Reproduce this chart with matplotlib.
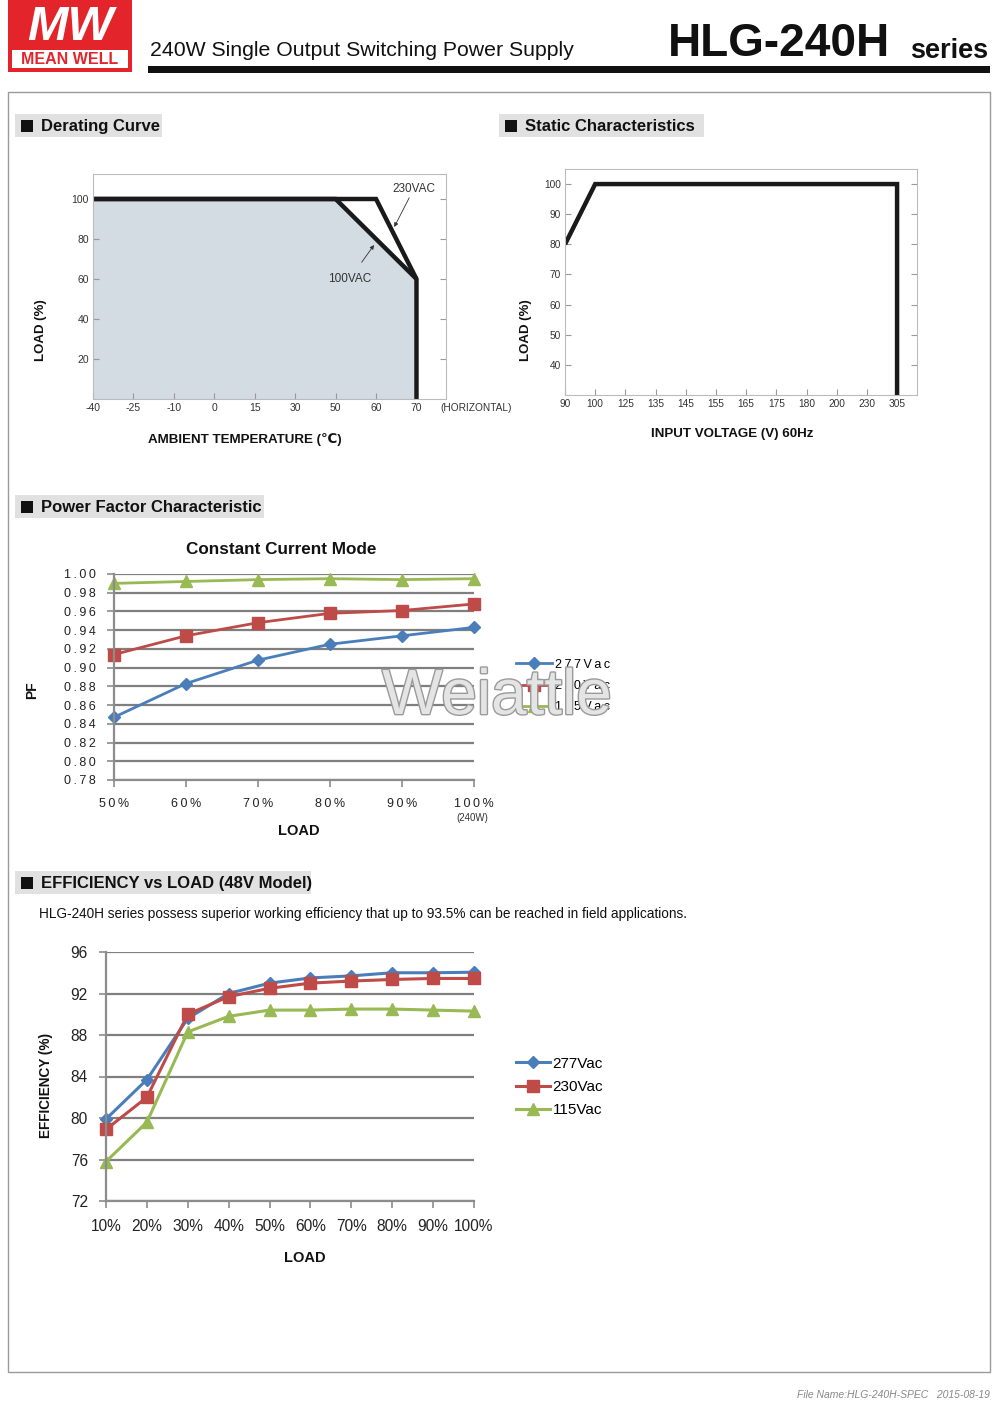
import matplotlib
matplotlib.use("Agg")
import matplotlib.pyplot as plt
from matplotlib.patches import Rectangle
import matplotlib.patheffects as pe
import numpy as np

plt.rcParams["font.family"] = ["Liberation Sans Narrow", "Liberation Sans", "DejaVu Sans"]

W, H = 1000, 1401

# derating curve (ambient temp in C, load in %)
derate_ticks = [-40, -25, -10, 0, 15, 30, 50, 60, 70]
derate_230_t = [-40, 60, 70, 70]
derate_230_load = [100, 100, 60, 0]
derate_100_t = [-40, 50, 70]
derate_100_load = [100, 100, 60]

# static characteristics
static_ticks = [90, 100, 125, 135, 145, 155, 165, 175, 180, 200, 230, 305]
static_v = [90, 100, 305, 305]
static_load = [80, 100, 100, 30]

# power factor, constant current mode
pf_load = [50, 60, 70, 80, 90, 100]
pf_277 = [0.847, 0.883, 0.908, 0.925, 0.934, 0.943]
pf_230 = [0.914, 0.934, 0.948, 0.958, 0.961, 0.968]
pf_115 = [0.990, 0.992, 0.994, 0.995, 0.994, 0.995]

# efficiency vs load, 48V model
eff_load = [10, 20, 30, 40, 50, 60, 70, 80, 90, 100]
eff_277 = [79.9, 83.7, 89.6, 92.0, 93.0, 93.5, 93.7, 94.0, 94.0, 94.05]
eff_230 = [78.9, 82.0, 90.0, 91.7, 92.5, 93.0, 93.2, 93.35, 93.45, 93.45]
eff_115 = [75.8, 79.6, 88.3, 89.8, 90.4, 90.4, 90.5, 90.5, 90.4, 90.3]

BLUE, RED, GREEN = "#4a7ebb", "#be4b48", "#98b954"


def box(x0, y0, x1, y1):
    return [x0 / W, 1 - y1 / H, (x1 - x0) / W, (y1 - y0) / H]


def ftext(x, y, s, **kw):
    fig.text(x / W, 1 - y / H, s, **kw)


def frect(x0, y0, x1, y1, **kw):
    fig.patches.append(Rectangle((x0 / W, 1 - y1 / H), (x1 - x0) / W, (y1 - y0) / H,
                                 transform=fig.transFigure, figure=fig, **kw))


def section(x0, y0, x1, y1, title):
    frect(x0, y0, x1, y1, facecolor="#e1e1e1", edgecolor="none")
    frect(x0 + 6, y0 + 6, x0 + 18, y0 + 18, facecolor="#111111", edgecolor="none")
    ftext(x0 + 26, (y0 + y1) / 2 + 1, title, fontsize=12, fontweight="bold",
          va="center", ha="left", color="#111111")


def spaced(s):
    return "\u2009".join(s)


fig = plt.figure(figsize=(W / 100, H / 100), dpi=100)

# header
frect(8, 0, 132, 72, facecolor="#e3242b", edgecolor="none")
frect(12, 50, 128, 68, facecolor="white", edgecolor="none")
ftext(70, 27, "MW", fontsize=35, color="white", fontweight="bold", style="italic",
      ha="center", va="center")
ftext(70, 59, "MEAN WELL", fontsize=11.5, color="#e3242b", fontweight="bold",
      ha="center", va="center")
ftext(150, 50, "240W Single Output Switching Power Supply", fontsize=15.3,
      ha="left", va="center", color="#111111")
ftext(668, 44, "HLG-240H", fontsize=33, fontweight="bold",
      ha="left", va="center", color="#111111")
ftext(988, 51, "series", fontsize=19.5, fontweight="bold", ha="right", va="center",
      color="#111111")
frect(148, 66, 990, 73, facecolor="#111111", edgecolor="none")

# page frame
frect(8, 92, 990, 1372, facecolor="none", edgecolor="#9a9a9a", linewidth=1)

section(15, 114, 162, 137, "Derating Curve")
section(499, 114, 704, 137, "Static Characteristics")
section(15, 495, 264, 518, "Power Factor Characteristic")
section(15, 871, 311, 894, "EFFICIENCY vs LOAD (48V Model)")

# ---- derating curve
ax1 = fig.add_axes(box(93, 174, 446, 399))
pos230 = np.interp(derate_230_t, derate_ticks, np.arange(len(derate_ticks)))
pos100 = np.interp(derate_100_t, derate_ticks, np.arange(len(derate_ticks)))
ax1.fill_between(list(pos100) + [pos100[-1]], list(derate_100_load) + [0],
                 color="#d3dbe3", lw=0)
ax1.plot(pos230, derate_230_load, color="#1a1a1a", lw=3.2, solid_joinstyle="miter",
         solid_capstyle="butt")
ax1.plot(pos100, derate_100_load, color="#1a1a1a", lw=3.2, solid_joinstyle="miter",
         solid_capstyle="butt")
ax1.set_xlim(0, 8.73)
ax1.set_ylim(0, 112.5)
ax1.set_xticks(range(len(derate_ticks)))
ax1.set_xticklabels([str(t) for t in derate_ticks])
ax1.set_yticks([20, 40, 60, 80, 100])
ax1.tick_params(direction="in", length=4, color="#999999", labelsize=7.5,
                labelcolor="#333333", right=True, pad=3)
for sp in ax1.spines.values():
    sp.set_color("#bbbbbb")
ax1.annotate("230VAC", xy=(7.45, 86), xytext=(7.4, 102), fontsize=8.5, color="#333333",
             ha="left", va="bottom",
             arrowprops=dict(arrowstyle="-|>", color="#333333", lw=0.6,
                             mutation_scale=6, shrinkA=0, shrinkB=0))
ax1.annotate("100VAC", xy=(6.95, 77), xytext=(6.35, 60), fontsize=8.5, color="#333333",
             ha="center", va="center",
             arrowprops=dict(arrowstyle="-|>", color="#333333", lw=0.6,
                             mutation_scale=6, shrinkA=7, shrinkB=0))
ftext(440, 408, "(HORIZONTAL)", fontsize=7.3, color="#333333", ha="left", va="center")
ftext(41, 330, "LOAD (%)", fontsize=9.5, fontweight="bold", rotation=90,
      ha="center", va="center", color="#111111")
ftext(245, 440, "AMBIENT TEMPERATURE (\u2103)", fontsize=9.6, fontweight="bold",
      ha="center", va="center", color="#111111")

# ---- static characteristics
ax2 = fig.add_axes(box(565, 169, 917, 395))
spos = np.interp(static_v, static_ticks, np.arange(len(static_ticks)))
ax2.plot(spos, static_load, color="#1a1a1a", lw=3.2, solid_joinstyle="miter",
         solid_capstyle="butt")
ax2.set_xlim(0, 11.66)
ax2.set_ylim(30, 105)
ax2.set_xticks(range(len(static_ticks)))
ax2.set_xticklabels([str(t) for t in static_ticks])
ax2.set_yticks([40, 50, 60, 70, 80, 90, 100])
ax2.tick_params(direction="in", length=4, color="#999999", labelsize=7.3,
                labelcolor="#333333", right=True, pad=3)
for sp in ax2.spines.values():
    sp.set_color("#bbbbbb")
ftext(526, 330, "LOAD (%)", fontsize=9.5, fontweight="bold", rotation=90,
      ha="center", va="center", color="#111111")
ftext(732, 434, "INPUT VOLTAGE (V) 60Hz", fontsize=9.6, fontweight="bold",
      ha="center", va="center", color="#111111")

# ---- power factor
ax3 = fig.add_axes(box(114, 574, 474, 780))
pf_ticks = np.arange(0.78, 1.001, 0.02)
ax3.set_xlim(50, 100)
ax3.set_ylim(0.78, 1.0)
ax3.set_yticks(pf_ticks)
ax3.set_yticklabels([spaced(f"{t:.2f}") for t in pf_ticks])
ax3.set_xticks(pf_load)
ax3.set_xticklabels([spaced(f"{p}%") for p in pf_load])
ax3.grid(axis="y", color="#7f7f7f", lw=1.6)
ax3.set_axisbelow(True)
for sp in ["top", "right"]:
    ax3.spines[sp].set_visible(False)
for sp in ["left", "bottom"]:
    ax3.spines[sp].set_color("#8c8c8c")
    ax3.spines[sp].set_linewidth(1.6)
ax3.tick_params(direction="out", length=5, color="#8c8c8c", width=1.2,
                labelsize=9, labelcolor="#222222", pad=8)
ax3.plot(pf_load, pf_277, color=BLUE, lw=2, marker="D", ms=6, label=spaced("277Vac"),
         clip_on=False)
ax3.plot(pf_load, pf_230, color=RED, lw=2, marker="s", ms=8, label=spaced("230Vac"),
         clip_on=False)
ax3.plot(pf_load, pf_115, color=GREEN, lw=2, marker="^", ms=9, label=spaced("115Vac"),
         clip_on=False)
ax3.legend(loc="center left", bbox_to_anchor=(516 / W, 1 - 686 / H),
           bbox_transform=fig.transFigure, frameon=False, fontsize=9,
           handlelength=2.9, handletextpad=0.2, labelspacing=0.75,
           borderpad=0, borderaxespad=0)
ftext(281, 550, "Constant Current Mode", fontsize=12.3, fontweight="bold",
      ha="center", va="center", color="#111111")
ftext(32, 690, "PF", fontsize=10, fontweight="bold", rotation=90,
      ha="center", va="center", color="#111111")
ftext(299, 831, "LOAD", fontsize=10.5, fontweight="bold", ha="center", va="center",
      color="#111111")
ftext(472, 818, "(240W)", fontsize=7, ha="center", va="center", color="#333333")
ftext(497, 697, "Weiattle", fontsize=46, family=["Liberation Sans", "DejaVu Sans"],
      color="#e4e4e4", ha="center", va="center", zorder=20,
      path_effects=[pe.withStroke(linewidth=2, foreground="#9a9a9a")])

# ---- efficiency
ftext(39, 914, "HLG-240H series possess superior working efficiency that up to 93.5% "
      "can be reached in field applications.", fontsize=9.8, ha="left", va="center",
      color="#111111")
ax4 = fig.add_axes(box(106, 952, 474, 1201))
ax4.set_xlim(10, 100)
ax4.set_ylim(72, 96)
ax4.set_yticks([72, 76, 80, 84, 88, 92, 96])
ax4.set_xticks(eff_load)
ax4.set_xticklabels([f"{p}%" for p in eff_load])
ax4.grid(axis="y", color="#7f7f7f", lw=1.6)
ax4.set_axisbelow(True)
for sp in ["top", "right"]:
    ax4.spines[sp].set_visible(False)
for sp in ["left", "bottom"]:
    ax4.spines[sp].set_color("#8c8c8c")
    ax4.spines[sp].set_linewidth(1.6)
ax4.tick_params(direction="out", length=5, color="#8c8c8c", width=1.2,
                labelsize=11.2, labelcolor="#222222", pad=8)
ax4.plot(eff_load, eff_277, color=BLUE, lw=2.2, marker="D", ms=6, label="277Vac",
         clip_on=False)
ax4.plot(eff_load, eff_230, color=RED, lw=2.2, marker="s", ms=8, label="230Vac",
         clip_on=False)
ax4.plot(eff_load, eff_115, color=GREEN, lw=2.2, marker="^", ms=9, label="115Vac",
         clip_on=False)
ax4.legend(loc="center left", bbox_to_anchor=(516 / W, 1 - 1087 / H),
           bbox_transform=fig.transFigure, frameon=False, fontsize=11,
           handlelength=2.2, handletextpad=0.2, labelspacing=0.6,
           borderpad=0, borderaxespad=0)
ftext(46, 1085, "EFFICIENCY (%)", fontsize=9.8, fontweight="bold", rotation=90,
      ha="center", va="center", color="#111111")
ftext(305, 1258, "LOAD", fontsize=10.5, fontweight="bold", ha="center", va="center",
      color="#111111")

ftext(990, 1395, "File Name:HLG-240H-SPEC   2015-08-19", fontsize=7.5, style="italic",
      color="#888888", ha="right", va="center")

fig.savefig("out.png", dpi=100)
